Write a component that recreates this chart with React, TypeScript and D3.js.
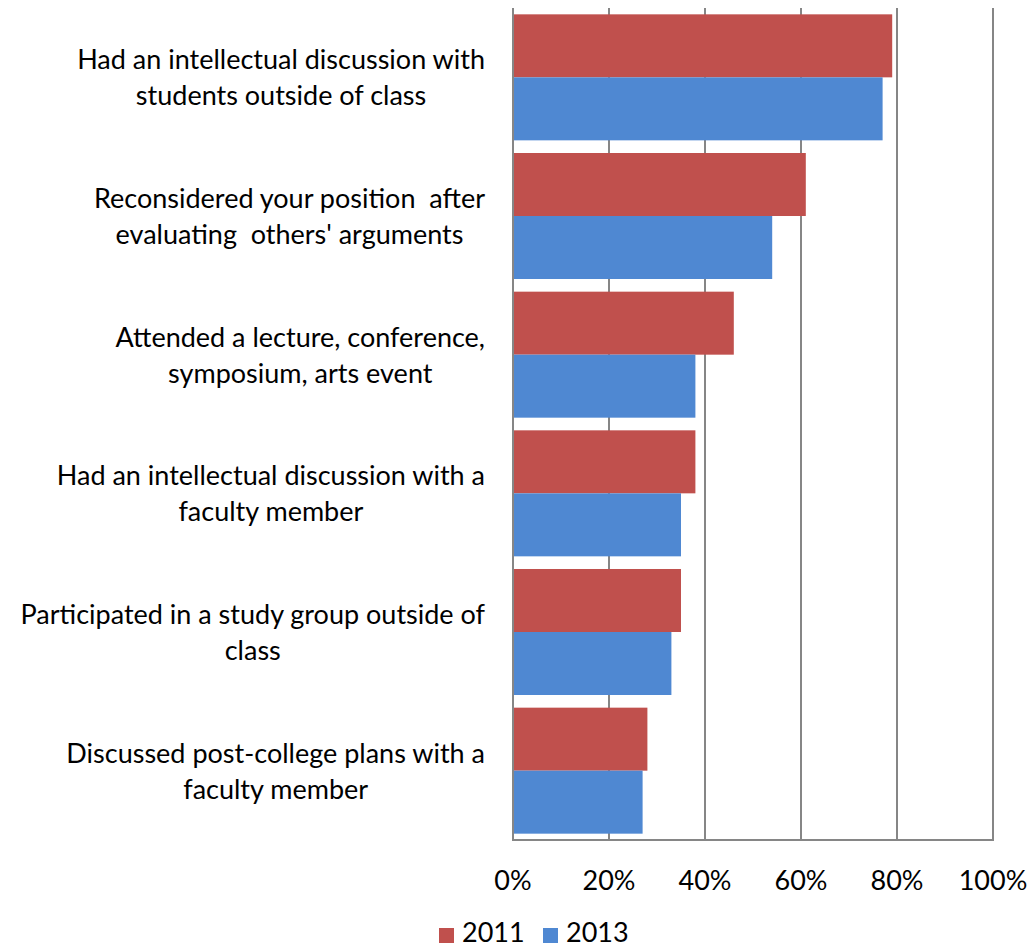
import React, { useEffect, useRef } from "react";
import * as d3 from "d3";

const categories: string[][] = [
  ["Had an intellectual discussion with", "students outside of class"],
  ["Reconsidered your position  after", "evaluating  others' arguments"],
  ["Attended a lecture, conference,", "symposium, arts event"],
  ["Had an intellectual discussion with a", "faculty member"],
  ["Participated in a study group outside of", "class"],
  ["Discussed post-college plans with a", "faculty member"],
];
const series2011: number[] = [79, 61, 46, 38, 35, 28];
const series2013: number[] = [77, 54, 38, 35, 33, 27];
const seriesNames: string[] = ["2011", "2013"];
const tickValues: number[] = [0, 20, 40, 60, 80, 100];

const W = 1035;
const H = 948;
const FONT = "Lato, 'Open Sans', sans-serif";
const FS = 27;
const COLORS = ["#C0504D", "#4F88D2"];

export default function App() {
  const ref = useRef<SVGSVGElement>(null);
  useEffect(() => {
    const svg = d3.select(ref.current);
    svg.selectAll("*").remove();
    const left = 513, right = 993, top = 8, bottom = 840;
    const x = d3.scaleLinear().domain([0, 100]).range([left, right]);
    const y = d3.scaleBand<number>().domain(d3.range(categories.length)).range([top, bottom]).paddingInner(0.0913).paddingOuter(0.0457);
    const yi = d3.scaleBand<number>().domain([0, 1]).range([0, y.bandwidth()]);

    // gridlines
    svg.append("g").selectAll("line").data(tickValues).join("line")
      .attr("x1", d => x(d)).attr("x2", d => x(d))
      .attr("y1", top).attr("y2", bottom)
      .attr("stroke", "#868686").attr("stroke-width", 2);

    const data = [series2011, series2013];
    data.forEach((s, si) => {
      svg.append("g").selectAll("rect").data(s).join("rect")
        .attr("x", left)
        .attr("y", (_, i) => (y(i) as number) + (yi(si) as number))
        .attr("width", d => x(d) - left)
        .attr("height", yi.bandwidth())
        .attr("fill", COLORS[si]);
    });

    // axis lines
    svg.append("line").attr("x1", left).attr("x2", left).attr("y1", top).attr("y2", bottom)
      .attr("stroke", "#868686").attr("stroke-width", 2);
    svg.append("line").attr("x1", left - 1).attr("x2", right + 1).attr("y1", bottom).attr("y2", bottom)
      .attr("stroke", "#868686").attr("stroke-width", 2);

    // tick labels
    svg.append("g").selectAll("text").data(tickValues).join("text")
      .attr("x", d => x(d)).attr("y", 890)
      .attr("text-anchor", "middle")
      .attr("font-family", FONT).attr("font-size", FS).attr("fill", "#000")
      .text(d => d + "%");

    // category labels
    categories.forEach((lines, i) => {
      const g = svg.append("g");
      const cy = (y(i) as number) + y.bandwidth() / 2;
      const texts = lines.map((l, li) =>
        g.append("text")
          .attr("y", cy + (li - (lines.length - 1) / 2) * 36 + 10)
          .attr("text-anchor", "middle")
          .attr("font-family", FONT).attr("font-size", FS).attr("fill", "#000")
          .style("white-space", "pre")
          .text(l)
      );
      const maxW = d3.max(texts, t => (t.node() as SVGTextElement).getComputedTextLength()) || 0;
      texts.forEach(t => t.attr("x", 485 - maxW / 2));
    });

    // legend
    const leg = svg.append("g");
    const legX = [439, 543];
    seriesNames.forEach((n, i) => {
      leg.append("rect").attr("x", legX[i]).attr("y", 928).attr("width", 15).attr("height", 15).attr("fill", COLORS[i]);
      leg.append("text").attr("x", legX[i] + 23).attr("y", 942)
        .attr("font-family", FONT).attr("font-size", FS).attr("fill", "#000").text(n);
    });
  }, []);
  return (
    <svg ref={ref} width={W} height={H} style={{ display: "block", position: "absolute", left: 0, top: 0 }} />
  );
}
